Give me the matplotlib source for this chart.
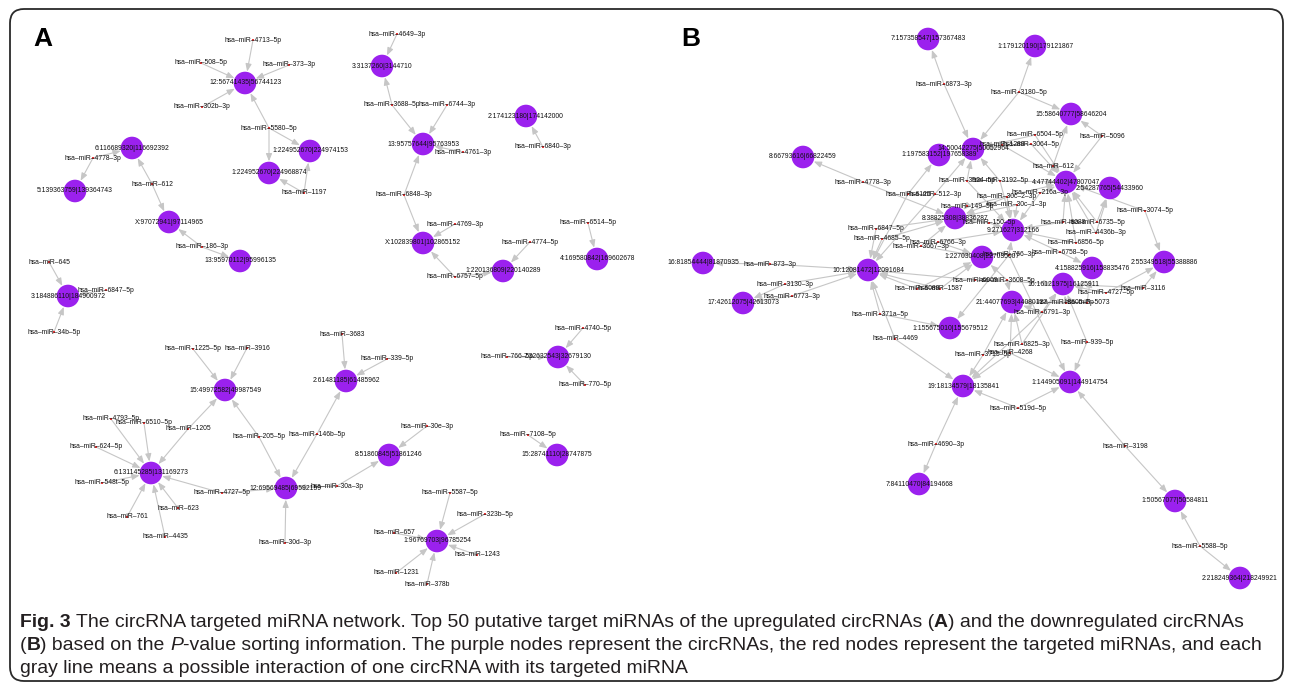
import matplotlib
matplotlib.use("Agg")
import matplotlib.pyplot as plt
from matplotlib.patches import FancyArrowPatch, FancyBboxPatch
from matplotlib.font_manager import FontProperties

W, H = 1292, 687

# ---- panel A: circRNAs, miRNAs and their targets ----
circ_a = ["12:56741435|56744123", "1:224952670|224974153", "1:224952670|224968874",
          "6:116689320|116692392", "5:139363759|139364743", "X:97072941|97114965",
          "13:95970112|95996135", "3:184886110|184900972", "3:3137260|3144710",
          "13:95757644|95763953", "2:174123180|174142000", "X:102839801|102865152",
          "1:220136809|220140289", "4:169580842|169602678", "15:49972582|49987549",
          "6:131145285|131169273", "12:69569485|69592159", "2:61481185|61485962",
          "7:32632543|32679130", "8:51860845|51861246", "15:28741110|28747875",
          "1:96769703|96785254"]

targets_a = {
    "hsa-miR-4713-5p": ["12:56741435|56744123"],
    "hsa-miR-508-5p": ["12:56741435|56744123"],
    "hsa-miR-373-3p": ["12:56741435|56744123"],
    "hsa-miR-302b-3p": ["12:56741435|56744123"],
    "hsa-miR-5580-5p": ["12:56741435|56744123", "1:224952670|224974153", "1:224952670|224968874"],
    "hsa-miR-1197": ["1:224952670|224968874", "1:224952670|224974153"],
    "hsa-miR-4778-3p": ["6:116689320|116692392", "5:139363759|139364743"],
    "hsa-miR-612": ["6:116689320|116692392", "X:97072941|97114965"],
    "hsa-miR-186-3p": ["X:97072941|97114965", "13:95970112|95996135"],
    "hsa-miR-645": ["3:184886110|184900972"],
    "hsa-miR-6847-5p": ["3:184886110|184900972"],
    "hsa-miR-34b-5p": ["3:184886110|184900972"],
    "hsa-miR-4649-3p": ["3:3137260|3144710"],
    "hsa-miR-3688-5p": ["3:3137260|3144710", "13:95757644|95763953"],
    "hsa-miR-6744-3p": ["13:95757644|95763953"],
    "hsa-miR-4761-3p": ["13:95757644|95763953"],
    "hsa-miR-6840-3p": ["2:174123180|174142000"],
    "hsa-miR-6848-3p": ["13:95757644|95763953", "X:102839801|102865152"],
    "hsa-miR-4769-3p": ["X:102839801|102865152"],
    "hsa-miR-6757-5p": ["X:102839801|102865152", "1:220136809|220140289"],
    "hsa-miR-4774-5p": ["1:220136809|220140289"],
    "hsa-miR-6514-5p": ["4:169580842|169602678"],
    "hsa-miR-1225-5p": ["15:49972582|49987549"],
    "hsa-miR-3916": ["15:49972582|49987549"],
    "hsa-miR-1205": ["15:49972582|49987549", "6:131145285|131169273"],
    "hsa-miR-205-5p": ["15:49972582|49987549", "12:69569485|69592159"],
    "hsa-miR-4793-5p": ["6:131145285|131169273"],
    "hsa-miR-6510-5p": ["6:131145285|131169273"],
    "hsa-miR-624-5p": ["6:131145285|131169273"],
    "hsa-miR-548t-5p": ["6:131145285|131169273"],
    "hsa-miR-761": ["6:131145285|131169273"],
    "hsa-miR-4435": ["6:131145285|131169273"],
    "hsa-miR-623": ["6:131145285|131169273"],
    "hsa-miR-4727-5p": ["6:131145285|131169273", "12:69569485|69592159"],
    "hsa-miR-30d-3p": ["12:69569485|69592159"],
    "hsa-miR-146b-5p": ["12:69569485|69592159", "2:61481185|61485962"],
    "hsa-miR-3683": ["2:61481185|61485962"],
    "hsa-miR-339-5p": ["2:61481185|61485962"],
    "hsa-miR-30e-3p": ["8:51860845|51861246"],
    "hsa-miR-30a-3p": ["8:51860845|51861246", "12:69569485|69592159"],
    "hsa-miR-4740-5p": ["7:32632543|32679130"],
    "hsa-miR-766-5p": ["7:32632543|32679130"],
    "hsa-miR-770-5p": ["7:32632543|32679130"],
    "hsa-miR-7108-5p": ["15:28741110|28747875"],
    "hsa-miR-5587-5p": ["1:96769703|96785254"],
    "hsa-miR-323b-5p": ["1:96769703|96785254"],
    "hsa-miR-657": ["1:96769703|96785254"],
    "hsa-miR-1243": ["1:96769703|96785254"],
    "hsa-miR-1231": ["1:96769703|96785254"],
    "hsa-miR-378b": ["1:96769703|96785254"],
}

# ---- panel B ----
circ_b = ["7:157358547|157367483", "1:179120190|179121867", "15:58640777|58646204",
          "14:50042275|50052964", "1:197583152|197658389", "8:66793616|66822459",
          "4:47744402|47807047", "2:54287765|54433960", "8:38825308|38836287",
          "9:271627|312166", "1:227030408|227035607", "10:12081472|12091684",
          "16:81854444|81870935", "17:42612075|42613073", "2:55349518|55388886",
          "4:158825916|158835476", "16:16121975|16125911", "21:44077693|44080127",
          "1:155675010|155679512", "19:18134579|18135841", "1:144905091|144914754",
          "7:84110470|84194668", "1:50567077|50584811", "2:218249364|218249921"]

targets_b = {
    "hsa-miR-6873-3p": ["7:157358547|157367483", "14:50042275|50052964"],
    "hsa-miR-3180-5p": ["1:179120190|179121867", "15:58640777|58646204", "14:50042275|50052964"],
    "hsa-miR-5096": ["15:58640777|58646204", "4:47744402|47807047"],
    "hsa-miR-6504-5p": ["4:47744402|47807047", "14:50042275|50052964"],
    "hsa-miR-3064-5p": ["4:47744402|47807047", "14:50042275|50052964"],
    "hsa-miR-1289": ["14:50042275|50052964", "4:47744402|47807047"],
    "hsa-miR-612": ["15:58640777|58646204", "4:47744402|47807047"],
    "hsa-miR-3192-5p": ["4:47744402|47807047", "14:50042275|50052964", "9:271627|312166"],
    "hsa-miR-3934-5p": ["14:50042275|50052964", "9:271627|312166"],
    "hsa-miR-4778-3p": ["8:66793616|66822459", "8:38825308|38836287"],
    "hsa-miR-6125": ["1:197583152|197658389", "10:12081472|12091684"],
    "hsa-miR-512-3p": ["14:50042275|50052964", "10:12081472|12091684"],
    "hsa-miR-149-5p": ["8:38825308|38836287", "4:47744402|47807047"],
    "hsa-miR-30c-2-3p": ["9:271627|312166", "8:38825308|38836287"],
    "hsa-miR-30c-1-3p": ["9:271627|312166", "8:38825308|38836287"],
    "hsa-miR-216a-3p": ["4:47744402|47807047", "9:271627|312166"],
    "hsa-miR-150-5p": ["9:271627|312166", "8:38825308|38836287"],
    "hsa-miR-6847-5p": ["8:38825308|38836287", "10:12081472|12091684"],
    "hsa-miR-4685-5p": ["8:38825308|38836287", "10:12081472|12091684"],
    "hsa-miR-6766-3p": ["1:227030408|227035607", "9:271627|312166"],
    "hsa-miR-3667-3p": ["8:38825308|38836287", "1:227030408|227035607"],
    "hsa-miR-766-3p": ["9:271627|312166", "1:144905091|144914754", "1:155675010|155679512"],
    "hsa-miR-6088": ["4:47744402|47807047", "9:271627|312166"],
    "hsa-miR-6735-5p": ["4:47744402|47807047", "2:54287765|54433960"],
    "hsa-miR-4436b-3p": ["4:47744402|47807047", "2:54287765|54433960"],
    "hsa-miR-6856-5p": ["9:271627|312166", "4:47744402|47807047"],
    "hsa-miR-6758-5p": ["9:271627|312166", "4:158825916|158835476"],
    "hsa-miR-3074-5p": ["4:47744402|47807047", "2:55349518|55388886"],
    "hsa-miR-3116": ["2:55349518|55388886", "16:16121975|16125911"],
    "hsa-miR-4727-5p": ["2:55349518|55388886", "16:16121975|16125911"],
    "hsa-miR-6069": ["10:12081472|12091684", "16:16121975|16125911"],
    "hsa-miR-3608-5p": ["21:44077693|44080127", "1:227030408|227035607"],
    "hsa-miR-6089": ["1:227030408|227035607", "10:12081472|12091684"],
    "hsa-miR-1587": ["1:227030408|227035607", "10:12081472|12091684"],
    "hsa-miR-3605-5p": ["16:16121975|16125911", "21:44077693|44080127"],
    "hsa-miR-5073": ["4:158825916|158835476", "21:44077693|44080127"],
    "hsa-miR-6791-3p": ["16:16121975|16125911", "21:44077693|44080127", "19:18134579|18135841"],
    "hsa-miR-6825-3p": ["21:44077693|44080127", "16:16121975|16125911"],
    "hsa-miR-4268": ["19:18134579|18135841", "21:44077693|44080127", "1:144905091|144914754"],
    "hsa-miR-3715-5p": ["19:18134579|18135841", "21:44077693|44080127"],
    "hsa-miR-939-5p": ["1:144905091|144914754", "16:16121975|16125911"],
    "hsa-miR-519d-5p": ["19:18134579|18135841", "1:144905091|144914754"],
    "hsa-miR-371a-5p": ["10:12081472|12091684", "1:155675010|155679512"],
    "hsa-miR-4469": ["10:12081472|12091684", "19:18134579|18135841"],
    "hsa-miR-873-3p": ["16:81854444|81870935", "10:12081472|12091684"],
    "hsa-miR-3130-3p": ["10:12081472|12091684", "17:42612075|42613073"],
    "hsa-miR-6773-3p": ["10:12081472|12091684", "17:42612075|42613073"],
    "hsa-miR-4690-3p": ["19:18134579|18135841", "7:84110470|84194668"],
    "hsa-miR-3198": ["1:144905091|144914754", "1:50567077|50584811"],
    "hsa-miR-5588-5p": ["1:50567077|50584811", "2:218249364|218249921"],
}

# ---- network layout (pixel coordinates of the drawing) ----
layout_a = {
    "12:56741435|56744123": (245, 83), "1:224952670|224974153": (310, 151),
    "1:224952670|224968874": (269, 173), "6:116689320|116692392": (132, 148),
    "5:139363759|139364743": (75, 191), "X:97072941|97114965": (169, 222),
    "13:95970112|95996135": (240, 261), "3:184886110|184900972": (68, 296),
    "3:3137260|3144710": (382, 66), "13:95757644|95763953": (423, 144),
    "2:174123180|174142000": (526, 116), "X:102839801|102865152": (423, 243),
    "1:220136809|220140289": (503, 271), "4:169580842|169602678": (597, 259),
    "15:49972582|49987549": (225, 390), "6:131145285|131169273": (151, 473),
    "12:69569485|69592159": (286, 488), "2:61481185|61485962": (346, 381),
    "7:32632543|32679130": (558, 357), "8:51860845|51861246": (389, 455),
    "15:28741110|28747875": (557, 455), "1:96769703|96785254": (437, 541),
    "hsa-miR-4713-5p": (253, 40), "hsa-miR-508-5p": (201, 63), "hsa-miR-373-3p": (289, 65),
    "hsa-miR-302b-3p": (202, 107), "hsa-miR-5580-5p": (269, 128), "hsa-miR-1197": (304, 193),
    "hsa-miR-4778-3p": (93, 158), "hsa-miR-612": (152, 184), "hsa-miR-186-3p": (202, 247),
    "hsa-miR-645": (49, 262), "hsa-miR-6847-5p": (106, 290), "hsa-miR-34b-5p": (54, 332),
    "hsa-miR-4649-3p": (397, 34), "hsa-miR-3688-5p": (392, 105), "hsa-miR-6744-3p": (447, 105),
    "hsa-miR-4761-3p": (463, 152), "hsa-miR-6840-3p": (543, 147), "hsa-miR-6848-3p": (404, 195),
    "hsa-miR-4769-3p": (455, 224), "hsa-miR-6757-5p": (455, 277), "hsa-miR-4774-5p": (530, 242),
    "hsa-miR-6514-5p": (588, 223), "hsa-miR-1225-5p": (193, 349), "hsa-miR-3916": (247, 348),
    "hsa-miR-1205": (188, 429), "hsa-miR-205-5p": (259, 437), "hsa-miR-4793-5p": (111, 419),
    "hsa-miR-6510-5p": (144, 423), "hsa-miR-624-5p": (96, 447), "hsa-miR-548t-5p": (102, 483),
    "hsa-miR-761": (127, 517), "hsa-miR-4435": (165, 537), "hsa-miR-623": (178, 508),
    "hsa-miR-4727-5p": (222, 493), "hsa-miR-30d-3p": (285, 543), "hsa-miR-146b-5p": (317, 434),
    "hsa-miR-3683": (342, 334), "hsa-miR-339-5p": (387, 359), "hsa-miR-30e-3p": (427, 426),
    "hsa-miR-30a-3p": (337, 486), "hsa-miR-4740-5p": (583, 328), "hsa-miR-766-5p": (507, 357),
    "hsa-miR-770-5p": (585, 385), "hsa-miR-7108-5p": (528, 435), "hsa-miR-5587-5p": (450, 493),
    "hsa-miR-323b-5p": (485, 514), "hsa-miR-657": (394, 533), "hsa-miR-1243": (477, 555),
    "hsa-miR-1231": (396, 573), "hsa-miR-378b": (427, 584),
}

layout_b = {
    "7:157358547|157367483": (928, 39), "1:179120190|179121867": (1035, 46),
    "15:58640777|58646204": (1071, 114), "14:50042275|50052964": (973, 149),
    "1:197583152|197658389": (939, 155), "8:66793616|66822459": (803, 157),
    "4:47744402|47807047": (1066, 182), "2:54287765|54433960": (1110, 188),
    "8:38825308|38836287": (955, 218), "9:271627|312166": (1013, 230),
    "1:227030408|227035607": (982, 257), "10:12081472|12091684": (868, 270),
    "16:81854444|81870935": (703, 263), "17:42612075|42613073": (743, 303),
    "2:55349518|55388886": (1164, 262), "4:158825916|158835476": (1092, 268),
    "16:16121975|16125911": (1063, 284), "21:44077693|44080127": (1012, 302),
    "1:155675010|155679512": (950, 328), "19:18134579|18135841": (963, 386),
    "1:144905091|144914754": (1070, 382), "7:84110470|84194668": (919, 484),
    "1:50567077|50584811": (1175, 501), "2:218249364|218249921": (1240, 578),
    "hsa-miR-6873-3p": (944, 84), "hsa-miR-3180-5p": (1019, 92), "hsa-miR-5096": (1102, 136),
    "hsa-miR-6504-5p": (1035, 135), "hsa-miR-3064-5p": (1031, 144), "hsa-miR-1289": (1002, 145),
    "hsa-miR-612": (1053, 166), "hsa-miR-3192-5p": (1000, 181), "hsa-miR-3934-5p": (967, 181),
    "hsa-miR-4778-3p": (863, 182), "hsa-miR-6125": (908, 194), "hsa-miR-512-3p": (935, 194),
    "hsa-miR-149-5p": (967, 206), "hsa-miR-30c-2-3p": (1007, 197), "hsa-miR-30c-1-3p": (1017, 205),
    "hsa-miR-216a-3p": (1040, 193), "hsa-miR-150-5p": (989, 223), "hsa-miR-6847-5p": (876, 229),
    "hsa-miR-4685-5p": (882, 239), "hsa-miR-6766-3p": (938, 242), "hsa-miR-3667-3p": (921, 246),
    "hsa-miR-766-3p": (1009, 255), "hsa-miR-6088": (1063, 222), "hsa-miR-6735-5p": (1097, 222),
    "hsa-miR-4436b-3p": (1096, 233), "hsa-miR-6856-5p": (1076, 243), "hsa-miR-6758-5p": (1060, 252),
    "hsa-miR-3074-5p": (1145, 211), "hsa-miR-3116": (1143, 288), "hsa-miR-4727-5p": (1106, 293),
    "hsa-miR-6069": (975, 280), "hsa-miR-3608-5p": (1007, 280), "hsa-miR-6089": (917, 289),
    "hsa-miR-1587": (940, 289), "hsa-miR-3605-5p": (1066, 303), "hsa-miR-5073": (1087, 303),
    "hsa-miR-6791-3p": (1042, 312), "hsa-miR-6825-3p": (1022, 344), "hsa-miR-4268": (1010, 353),
    "hsa-miR-3715-5p": (983, 355), "hsa-miR-939-5p": (1087, 342), "hsa-miR-519d-5p": (1018, 408),
    "hsa-miR-371a-5p": (880, 314), "hsa-miR-4469": (895, 339), "hsa-miR-873-3p": (770, 264),
    "hsa-miR-3130-3p": (785, 284), "hsa-miR-6773-3p": (792, 296), "hsa-miR-4690-3p": (936, 444),
    "hsa-miR-3198": (1125, 446), "hsa-miR-5588-5p": (1200, 546),
}

caption = [
    [("Fig. 3", "bold"), (" The circRNA targeted miRNA network. Top 50 putative target miRNAs of the "
                          "upregulated circRNAs (", "normal"), ("A", "bold"),
     (") and the downregulated circRNAs", "normal")],
    [("(", "normal"), ("B", "bold"), (") based on the ", "normal"), ("P", "italic"),
     ("-value sorting information. The purple nodes represent the circRNAs, the red nodes "
      "represent the targeted miRNAs, and each", "normal")],
    [("gray line means a possible interaction of one circRNA with its targeted miRNA", "normal")],
]

PURPLE = "#9b21ee"
EDGE = "#c6c6c6"
NODE_FONT = ["Liberation Sans", "DejaVu Sans"]

fig = plt.figure(figsize=(W / 100, H / 100), dpi=100)
ax = fig.add_axes([0, 0, 1, 1])
ax.set_xlim(0, W)
ax.set_ylim(H, 0)
ax.axis("off")


def draw_net(circ, targets, pos):
    for mir, tl in targets.items():
        for c in tl:
            a = FancyArrowPatch(pos[mir], pos[c], arrowstyle="-|>,head_length=4.5,head_width=1.8",
                                mutation_scale=1, shrinkA=0.5, shrinkB=8.4, color=EDGE,
                                lw=0.8, zorder=1)
            ax.add_patch(a)
    cx = [pos[c][0] for c in circ]
    cy = [pos[c][1] for c in circ]
    ax.scatter(cx, cy, s=265, color=PURPLE, edgecolors="none", zorder=2)
    mx = [pos[m][0] for m in targets]
    my = [pos[m][1] for m in targets]
    ax.scatter(mx, my, s=2.2, color="#e01010", edgecolors="none", zorder=3)
    for c in circ:
        ax.text(pos[c][0], pos[c][1], c, fontsize=4.85, family=NODE_FONT,
                ha="center", va="center", color="#111111", zorder=4)
    for m in targets:
        ax.text(pos[m][0], pos[m][1], m.replace("-", "\u2013"), fontsize=4.85, family=NODE_FONT,
                ha="center", va="center", color="#111111", zorder=4)


draw_net(circ_a, targets_a, layout_a)
draw_net(circ_b, targets_b, layout_b)

ax.text(33, 46, "A", fontsize=19, fontweight="bold", family=NODE_FONT, va="baseline")
ax.text(681, 46, "B", fontsize=19, fontweight="bold", family=NODE_FONT, va="baseline")

# rounded frame
ax.add_patch(FancyBboxPatch((10, 9), 1273, 672, boxstyle="round,pad=0,rounding_size=14",
                            fill=False, ec="#2a2a2a", lw=1.3, zorder=5))

# caption, drawn piece by piece to mix bold / italic
r = fig.canvas.get_renderer()
CAP_FONT = ["Liberation Sans", "DejaVu Sans"]
cap_size = 13.95


def text_w(s, prop):
    w1 = r.get_text_width_height_descent("|" + s + "|", prop, ismath=False)[0]
    w0 = r.get_text_width_height_descent("||", prop, ismath=False)[0]
    return w1 - w0


for i, line in enumerate(caption):
    x = 20
    y = 627 + i * 23
    for s, style in line:
        prop = FontProperties(family=CAP_FONT, size=cap_size,
                              weight="bold" if style == "bold" else "normal",
                              style="italic" if style == "italic" else "normal")
        ax.text(x, y, s, fontproperties=prop, va="baseline", ha="left", color="#231f20")
        x += text_w(s, prop)

fig.savefig("out.png", dpi=100)
